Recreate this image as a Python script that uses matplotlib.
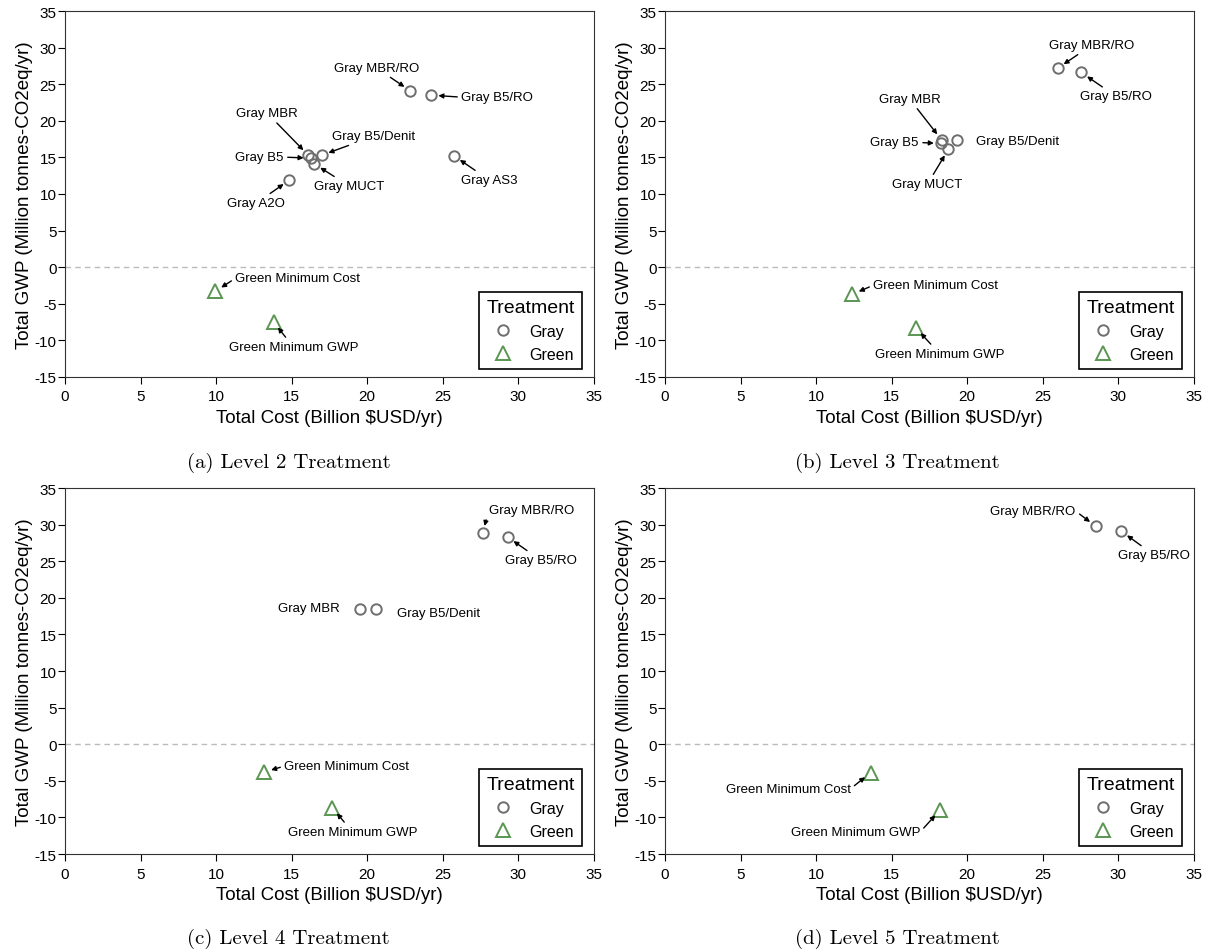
import matplotlib
matplotlib.use("Agg")
import matplotlib.pyplot as plt

plt.rcParams['font.family'] = ['Liberation Sans', 'DejaVu Sans']
plt.rcParams['axes.unicode_minus'] = False

# values (cost in billion $/yr, GWP in Mt CO2eq/yr)
gray_names_2 = ["Gray MBR/RO", "Gray B5/RO", "Gray MBR", "Gray B5", "Gray MUCT", "Gray B5/Denit", "Gray A2O", "Gray AS3"]
gray_cost_2 = [22.85, 24.25, 16.1, 16.25, 16.5, 17.0, 14.85, 25.75]
gray_gwp_2 = [24.1, 23.5, 15.3, 14.9, 14.1, 15.3, 11.9, 15.2]
green_cost_2 = [9.95, 13.8]
green_gwp_2 = [-3.3, -7.5]

gray_names_3 = ["Gray MBR/RO", "Gray B5/RO", "Gray MBR", "Gray B5", "Gray MUCT", "Gray B5/Denit"]
gray_cost_3 = [26.0, 27.55, 18.3, 18.25, 18.75, 19.3]
gray_gwp_3 = [27.2, 26.6, 17.4, 16.9, 16.1, 17.4]
green_cost_3 = [12.4, 16.6]
green_gwp_3 = [-3.7, -8.3]

gray_names_4 = ["Gray MBR/RO", "Gray B5/RO", "Gray MBR", "Gray B5/Denit"]
gray_cost_4 = [27.65, 29.3, 19.5, 20.55]
gray_gwp_4 = [28.9, 28.3, 18.5, 18.5]
green_cost_4 = [13.2, 17.7]
green_gwp_4 = [-3.8, -8.7]

gray_names_5 = ["Gray MBR/RO", "Gray B5/RO"]
gray_cost_5 = [28.5, 30.2]
gray_gwp_5 = [29.8, 29.1]
green_cost_5 = [13.6, 18.2]
green_gwp_5 = [-3.9, -9.0]

green_names = ["Green Minimum Cost", "Green Minimum GWP"]
captions = ["(a) Level 2 Treatment", "(b) Level 3 Treatment", "(c) Level 4 Treatment", "(d) Level 5 Treatment"]

# label placement: (dx, dy in pixels, ha, arrow)
lab_2 = [(-34, 23, 'center', True), (30, -2, 'left', True), (-41, 42, 'center', True), (-27, 1, 'right', True),
         (35, -22, 'center', True), (52, 19, 'center', True), (-33, -23, 'center', True), (35, -24, 'center', True)]
glab_2 = [(20, 13, 'left', True), (20, -25, 'center', True)]
lab_3 = [(34, 23, 'center', True), (35, -24, 'center', True), (-32, 41, 'center', True), (-22, 1, 'right', True),
         (-21, -35, 'center', True), (19, -1, 'left', False)]
glab_3 = [(21, 9, 'left', True), (24, -26, 'center', True)]
lab_4 = [(6, 23, 'left', True), (33, -23, 'center', True), (-20, 1, 'right', False), (21, -4, 'left', False)]
glab_4 = [(20, 6, 'left', True), (20, -24, 'center', True)]
lab_5 = [(-20, 15, 'right', True), (33, -24, 'center', True)]
glab_5 = [(-20, -16, 'right', True), (-20, -22, 'right', True)]

panels = [
    (gray_names_2, gray_cost_2, gray_gwp_2, green_cost_2, green_gwp_2, lab_2, glab_2),
    (gray_names_3, gray_cost_3, gray_gwp_3, green_cost_3, green_gwp_3, lab_3, glab_3),
    (gray_names_4, gray_cost_4, gray_gwp_4, green_cost_4, green_gwp_4, lab_4, glab_4),
    (gray_names_5, gray_cost_5, gray_gwp_5, green_cost_5, green_gwp_5, lab_5, glab_5),
]

gray_col = "#6e6e6e"
green_col = "#5a9652"

fig = plt.figure(figsize=(12.08, 9.53), dpi=100)
boxes = [(0.0538, 0.6034), (0.5505, 0.6034), (0.0538, 0.1028), (0.5505, 0.1028)]
cap_pos = [(0.239, 0.514), (0.743, 0.514), (0.239, 0.0147), (0.743, 0.0147)]
relpos = {'left': (0, 0.5), 'right': (1, 0.5), 'center': (0.5, 0.5)}

def annotate_all(ax, names, xs, ys, labs):
    for n, x, y, (dx, dy, ha, arrow) in zip(names, xs, ys, labs):
        props = dict(arrowstyle="-|>", color="black", lw=1, shrinkA=1, shrinkB=5,
                     mutation_scale=7, relpos=relpos[ha]) if arrow else None
        ax.annotate(n, xy=(x, y), xytext=(dx, dy), textcoords="offset pixels",
                    ha=ha, va="center", fontsize=9.5, arrowprops=props)

for i, (names, gx, gy, ex, ey, lab, glab) in enumerate(panels):
    l, b = boxes[i]
    ax = fig.add_axes([l, b, 0.4378, 0.384])
    ax.axhline(0, color="#bbbbbb", ls=(0, (4, 3)), lw=1, zorder=0)
    ax.plot(gx, gy, 'o', ms=7.5, mfc='none', mec=gray_col, mew=1.4, ls='none', label="Gray")
    ax.plot(ex, ey, '^', ms=10, mfc='none', mec=green_col, mew=1.4, ls='none', label="Green")
    annotate_all(ax, names, gx, gy, lab)
    annotate_all(ax, green_names, ex, ey, glab)
    ax.set_xlim(0, 35)
    ax.set_ylim(-15, 35)
    ax.set_xticks(range(0, 36, 5))
    ax.set_yticks(range(-15, 36, 5))
    ax.tick_params(direction='out', length=5, labelsize=11, pad=1)
    ax.tick_params(axis='x', pad=4)
    for s in ax.spines.values():
        s.set_color("#333333")
    ax.set_xlabel("Total Cost (Billion $USD/yr)", fontsize=13.5, labelpad=4)
    ax.set_ylabel("Total GWP (Million tonnes-CO2eq/yr)", fontsize=13.5, labelpad=1)
    leg = ax.legend(title="Treatment", loc="lower right", fontsize=11.5, title_fontsize=14,
                    fancybox=False, edgecolor="black", framealpha=1, handletextpad=0.6,
                    borderpad=0.45, borderaxespad=0, bbox_to_anchor=(0.977, 0.022))
    leg.get_frame().set_linewidth(1.2)
    fig.text(cap_pos[i][0], cap_pos[i][1], captions[i], ha="center", va="center",
             fontsize=15, family=["cmr10", "DejaVu Serif"])

fig.savefig("out.png", dpi=100)
